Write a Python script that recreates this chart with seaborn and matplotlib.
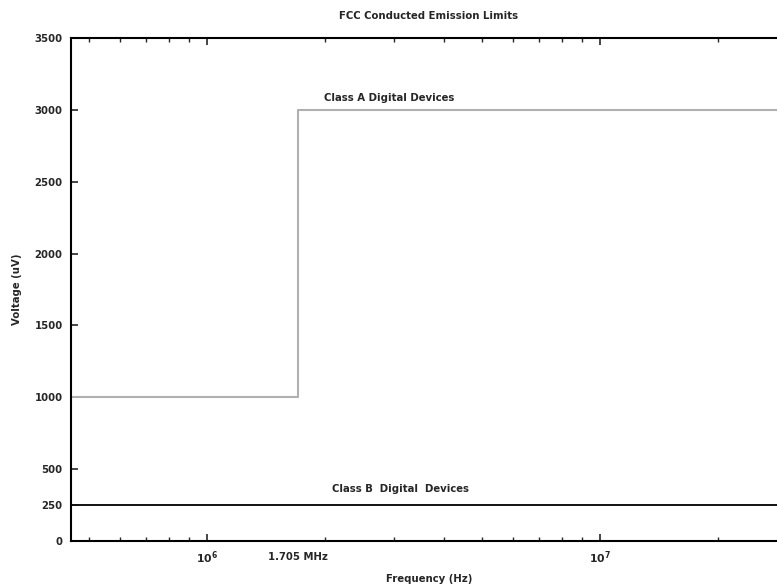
import matplotlib
matplotlib.use("Agg")
import matplotlib.pyplot as plt
import seaborn as sns
import pandas as pd
from matplotlib.ticker import FixedLocator, NullFormatter, LogLocator

# data
class_a_freq = [450e3, 1.705e6, 30e6]
class_a_volt = [1000, 3000, 3000]
class_b_freq = [450e3, 30e6]
class_b_volt = [250, 250]
y_ticks = [0, 250, 500, 1000, 1500, 2000, 2500, 3000, 3500]
x_major = [1e6, 1e7]

sns.set_style("ticks")
plt.rcParams['font.family'] = ['DejaVu Sans']
plt.rcParams['mathtext.fontset'] = 'custom'
plt.rcParams['mathtext.rm'] = 'DejaVu Sans:bold'
plt.rcParams['mathtext.it'] = 'DejaVu Sans:bold'
plt.rcParams['mathtext.default'] = 'rm'

FS = 7.3
fig = plt.figure(figsize=(7.77, 5.84), dpi=100)
ax = fig.add_axes([0.0914, 0.0736, 1.013 - 0.0914, 0.935 - 0.0736])

dfa = pd.DataFrame({"f": class_a_freq, "v": class_a_volt})
dfb = pd.DataFrame({"f": class_b_freq, "v": class_b_volt})
sns.lineplot(data=dfa, x="f", y="v", ax=ax, color="#b0b0b0", linewidth=1.5,
             drawstyle="steps-post", estimator=None)
sns.lineplot(data=dfb, x="f", y="v", ax=ax, color="#111111", linewidth=1.4,
             estimator=None)

ax.set_xscale("log")
ax.set_xlim(450e3, 30e6)
ax.set_ylim(0, 3500)
ax.yaxis.set_major_locator(FixedLocator(y_ticks))
ax.set_yticklabels([str(t) for t in y_ticks], fontsize=FS, fontweight="bold")
ax.xaxis.set_major_locator(FixedLocator(x_major))
ax.set_xticklabels([r"$10^{6}$", r"$10^{7}$"], fontsize=FS + 0.5)
ax.xaxis.set_minor_locator(LogLocator(base=10, subs=range(2, 10)))
ax.xaxis.set_minor_formatter(NullFormatter())

for s in ax.spines.values():
    s.set_linewidth(1.5)
    s.set_color("black")
ax.tick_params(axis="both", which="both", direction="in", top=True, right=True)
ax.tick_params(axis="both", which="major", length=5, width=1.2, pad=6)
ax.tick_params(axis="x", which="minor", length=3, width=1.0)

ax.text(1.705e6, -0.021, "1.705 MHz", transform=ax.get_xaxis_transform(),
        ha="center", va="top", fontsize=FS, fontweight="bold")
ax.text(2.9e6, 3080, "Class A Digital Devices", ha="center", va="center",
        fontsize=FS, fontweight="bold")
ax.text(3.1e6, 362, "Class B  Digital  Devices", ha="center", va="center",
        fontsize=FS, fontweight="bold")

ax.set_xlabel("Frequency (Hz)", fontsize=FS, fontweight="bold", labelpad=6)
ax.set_ylabel("Voltage (uV)", fontsize=FS, fontweight="bold", labelpad=9)
ax.set_title("FCC Conducted Emission Limits", fontsize=FS, fontweight="bold", pad=14)

fig.savefig("out.png", dpi=100)
